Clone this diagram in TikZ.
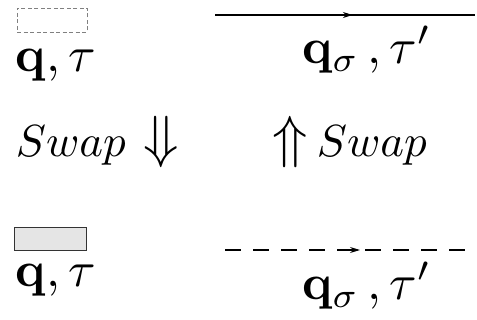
\documentclass[tikz,border=0pt]{standalone}
\usetikzlibrary{arrows.meta, positioning, decorations.markings}
\tikzset{
  ghost/.style={draw=gray, dash pattern=on 4pt off 2.5pt, line width=0.9pt, minimum width=70pt, minimum height=24pt, inner sep=0pt},
  block/.style={draw=black!80, fill=gray!20, line width=0.9pt, minimum width=72pt, minimum height=23pt, inner sep=0pt},
  lbl/.style={inner sep=0pt, scale=5},
  swp/.style={inner sep=0pt, scale=4.5},
  dbl/.style={inner sep=0pt, scale=5.8},
  midarr/.style={line width=1.2pt, postaction={decorate},
    decoration={markings, mark=at position #1 with {\arrow{Stealth[length=10pt, width=6pt]}}}},
}
\begin{document}
\begin{tikzpicture}[x=1pt, y=-1pt]
    \useasboundingbox (0,0) rectangle (477,320);
    % top row
    \node[ghost] (g) at (52,20) {};
    \node[lbl, anchor=base west] (q1) at (15,72) {$\mathbf{q}, \tau$};
    \coordinate (t1) at (215,15);
    \coordinate (t2) at (475,15);
    \draw[midarr=0.53] (t1) -- (t2);
    \node[lbl, anchor=base west] (q2) at (301,64) {$\mathbf{q}_{\sigma}\,, \tau'$};
    % swap row
    \node[swp, anchor=base west] (s1) at (15,157) {$Swap$};
    \node[dbl, anchor=base west] (d1) at (142,157) {$\Downarrow$};
    \node[dbl, anchor=base west] (u1) at (271,157) {$\Uparrow$};
    \node[swp, anchor=base west] (s2) at (316,157) {$Swap$};
    % bottom row
    \node[block] (b) at (50,238.5) {};
    \node[lbl, anchor=base west] (q3) at (15,287) {$\mathbf{q}, \tau$};
    \coordinate (d1l) at (225,250);
    \coordinate (d1r) at (475,250);
    \draw[midarr=0.54, dash pattern=on 16pt off 12pt] (d1l) -- (d1r);
    \node[lbl, anchor=base west] (q4) at (301,300) {$\mathbf{q}_{\sigma}\,, \tau'$};
\end{tikzpicture}
\end{document}
